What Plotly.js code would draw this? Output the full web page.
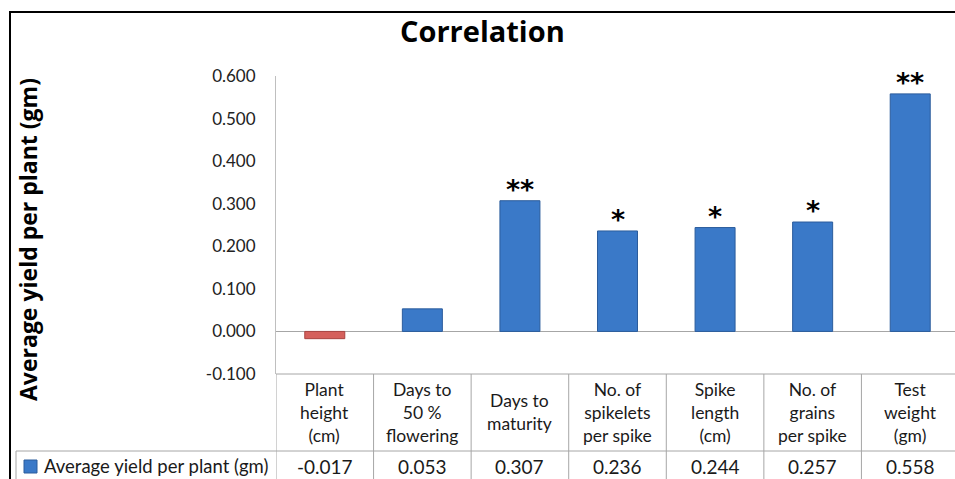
<!DOCTYPE html>
<html>
<head>
<meta charset="utf-8">
<script src="https://cdn.plot.ly/plotly-3.0.1.min.js"></script>
<style>
html,body{margin:0;padding:0;overflow:hidden;background:#fff;}
#chart{width:960px;height:479px;}
</style>
</head>
<body>
<div id="chart"></div>
<script>
// ---- data ----
var categories = ["Plant<br>height<br>(cm)", "Days to<br>50 %<br>flowering", "Days to<br>maturity", "No. of<br>spikelets<br>per spike", "Spike<br>length<br>(cm)", "No. of<br>grains<br>per spike", "Test<br>weight<br>(gm)"];
var values = [-0.017, 0.053, 0.307, 0.236, 0.244, 0.257, 0.558];
var significance = ["", "", "**", "*", "*", "*", "**"];
var seriesName = "Average yield per plant (gm)";
var yTicks = [-0.1, 0, 0.1, 0.2, 0.3, 0.4, 0.5, 0.6];
var yTickText = yTicks.map(function(v){ return v.toFixed(3); });

// ---- geometry helpers (pixel -> paper) ----
var W = 960, H = 479, L = 276, R = 959, T = 76, B = 374;
function px(X){ return (X - L) / (R - L); }
function py(Y){ return (B - Y) / (B - T); }

var FONT = "Lato, 'Open Sans', sans-serif";
var xs = values.map(function(v, i){ return i; });
var barColors = values.map(function(v){ return v < 0 ? "#D5605C" : "#3A79C8"; });
var lineColors = values.map(function(v){ return v < 0 ? "#A94441" : "#2B5C9C"; });

var trace = {
  type: "bar",
  x: xs,
  y: values,
  name: seriesName,
  marker: {color: barColors, line: {color: lineColors, width: 1}},
  hoverinfo: "skip"
};

var shapes = [];
var annotations = [];
var grid = "#a6a6a6";

shapes.push({type:"line", xref:"paper", yref:"paper", x0:0, x1:1.2, y0:0, y1:0, line:{color:grid, width:1}});
shapes.push({type:"line", xref:"paper", yref:"paper", x0:px(16), x1:1.2, y0:py(451), y1:py(451), line:{color:grid, width:1}});
shapes.push({type:"line", xref:"paper", yref:"paper", x0:px(16), x1:px(16), y0:py(451), y1:py(490), line:{color:grid, width:1}});
for (var i = 0; i <= categories.length; i++) {
  shapes.push({type:"line", xref:"x", yref:"paper", x0:i-0.5, x1:i-0.5, y0:0, y1:py(490), line:{color:grid, width:1}});
}
shapes.push({type:"rect", xref:"paper", yref:"paper", x0:px(10), x1:px(1000), y0:py(12), y1:py(520), line:{color:"#000", width:2}, fillcolor:"rgba(0,0,0,0)", layer:"above"});
shapes.push({type:"rect", xref:"paper", yref:"paper", x0:px(24), x1:px(37), y0:py(460), y1:py(473), fillcolor:"#3A79C8", line:{color:"#2B5C9C", width:1}});

categories.forEach(function(c, i){
  annotations.push({xref:"x", yref:"paper", x:i, y:py(412), text:c, showarrow:false, xanchor:"center", yanchor:"middle", align:"center", font:{family:FONT, size:17.5, color:"#1a1a1a"}});
  annotations.push({xref:"x", yref:"paper", x:i, y:py(466), text:values[i].toFixed(3), showarrow:false, xanchor:"center", yanchor:"middle", font:{family:FONT, size:19, color:"#1a1a1a"}});
  if (significance[i]) {
    annotations.push({xref:"x", yref:"y", x:i, y:values[i], text:"<b>" + significance[i] + "</b>", showarrow:false, xanchor:"center", yanchor:"bottom", yshift:-6, font:{family:"DejaVu Sans, sans-serif", size:27, color:"#000"}});
  }
});
annotations.push({xref:"paper", yref:"paper", x:px(42), y:py(466), text:seriesName, showarrow:false, xanchor:"left", yanchor:"middle", font:{family:FONT, size:18.5, color:"#1a1a1a"}});
annotations.push({xref:"paper", yref:"paper", x:px(28), y:py(240), text:"<b>Average yield per plant (gm)</b>", textangle:-90, showarrow:false, xanchor:"center", yanchor:"middle", font:{family:"'Open Sans', sans-serif", size:23, color:"#000"}});
annotations.push({xref:"paper", yref:"paper", x:px(482), y:py(31), text:"<b>Correlation</b>", showarrow:false, xanchor:"center", yanchor:"middle", font:{family:"'Open Sans', sans-serif", size:29, color:"#000"}});

var layout = {
  width: W, height: H,
  margin: {l: L, r: W - R, t: T, b: H - B, pad: 0},
  paper_bgcolor: "#fff", plot_bgcolor: "#fff",
  showlegend: false,
  bargap: 0.59,
  xaxis: {range: [-0.5, 6.5], showticklabels: false, showgrid: false, zeroline: false, showline: false, ticks: "", fixedrange: true},
  yaxis: {range: [-0.1, 0.6], tickvals: yTicks, ticktext: yTickText, showgrid: false, zeroline: true, zerolinecolor: "#a6a6a6", zerolinewidth: 1,
          showline: true, linecolor: "#bfbfbf", linewidth: 1, ticks: "", ticklabelstandoff: 16,
          tickfont: {family: FONT, size: 17, color: "#222"}, fixedrange: true},
  shapes: shapes,
  annotations: annotations
};

Plotly.newPlot("chart", [trace], layout, {displayModeBar: false, staticPlot: true});
</script>
</body>
</html>
